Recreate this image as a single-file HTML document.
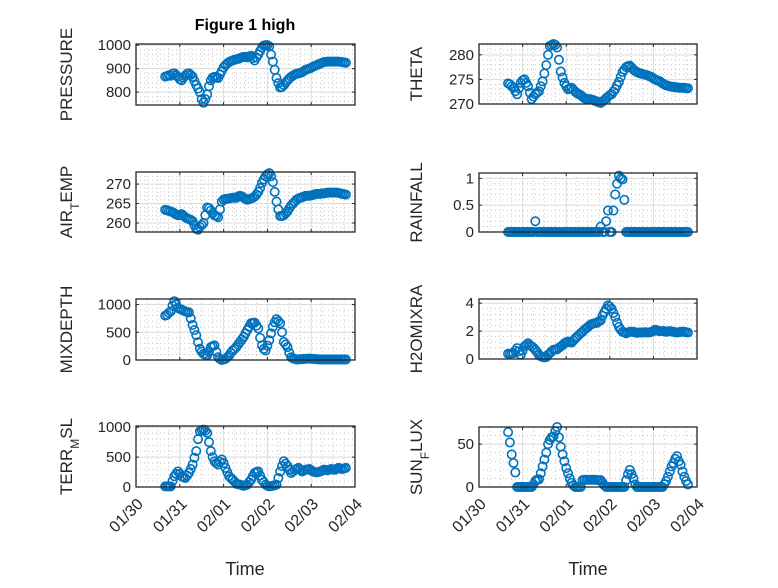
<!DOCTYPE html>
<html><head><meta charset="utf-8"><style>
body{margin:0;background:#fff}
svg text{font-family:"Liberation Sans",sans-serif;fill:#262626}
</style></head><body>
<svg id="fig" width="778" height="583" xmlns="http://www.w3.org/2000/svg">
<rect width="778" height="583" fill="#fff"/>
<text x="245" y="30" text-anchor="middle" font-size="16" font-weight="bold" style="fill:#000">Figure 1 high</text>
<text x="245" y="575" text-anchor="middle" font-size="18">Time</text>
<text x="588" y="575" text-anchor="middle" font-size="18">Time</text>
</svg>
<script>
const hours=[16,17,18,19,20,21,22,23,24,25,26,27,28,29,30,31,32,33,34,35,36,37,38,39,40,41,42,43,44,45,46,47,48,49,50,51,52,53,54,55,56,57,58,59,60,61,62,63,64,65,66,67,68,69,70,71,72,73,74,75,76,77,78,79,80,81,82,83,84,85,86,87,88,89,90,91,92,93,94,95,96,97,98,99,100,101,102,103,104,105,106,107,108,109,110,111,112,113,114,115];
const dayTicks=["01/30","01/31","02/01","02/02","02/03","02/04"];
const pressure=[866,868,872,870,878,880,872,865,855,850,862,870,878,880,873,865,848,830,815,800,770,755,770,790,825,850,862,865,862,860,875,890,905,915,922,928,932,935,938,940,942,945,948,950,950,948,952,955,945,935,948,960,975,990,998,1000,1000,995,960,930,895,860,838,820,822,830,840,850,858,865,870,875,878,880,882,885,890,895,898,900,904,908,912,915,918,922,925,928,929,930,930,930,930,930,930,930,929,928,926,925];
const airTemp=[263.4,263.3,263.1,263.0,262.8,262.5,262.2,262.0,262.1,262.3,261.9,261.5,261.2,261.0,260.8,260.5,259.5,258.5,258.3,259.0,259.5,260.0,262.0,264.0,263.8,263.2,262.5,262.0,261.8,261.5,263.5,265.5,266.0,266.2,266.2,266.3,266.4,266.5,266.5,266.5,266.8,267.0,266.8,266.5,266.2,266.0,266.1,266.3,266.5,266.8,267.3,268.0,269.0,270.3,271.2,272.0,272.5,272.8,272.0,270.5,268.0,265.5,263.5,261.8,261.8,262.0,262.5,263.0,263.8,264.5,265.0,265.5,266.0,266.3,266.5,266.6,266.8,267.0,267.0,267.0,267.1,267.2,267.4,267.5,267.5,267.5,267.6,267.6,267.7,267.8,267.8,267.8,267.8,267.8,267.8,267.7,267.6,267.5,267.4,267.3];
const mixDepth=[800,816,850,877,980,1060,1000,940,920,908,890,877,865,859,750,632,540,448,320,202,150,110,90,80,150,233,250,264,150,50,20,0,10,20,50,80,130,172,200,233,280,325,370,417,480,540,600,663,670,675,620,570,400,264,200,172,260,356,480,600,680,736,700,663,500,325,280,233,130,50,30,20,10,10,15,15,20,20,25,25,22,20,18,15,12,10,10,10,10,10,10,10,10,10,10,10,10,10,10,10];
const terrMsl=[10,10,10,10,100,180,220,260,220,180,165,150,190,235,300,375,490,600,800,930,950,960,940,905,750,600,500,430,400,375,420,460,400,320,250,180,150,120,90,55,45,40,30,20,30,40,80,120,180,235,250,260,190,120,80,40,20,10,15,20,30,40,150,260,350,430,390,350,290,235,260,290,300,320,290,260,275,290,295,300,280,260,250,245,250,260,275,290,285,280,290,300,295,290,305,320,310,300,310,320];
const theta=[274.2,274,273.6,273.3,272.6,272,273.2,274.3,274.8,275,274.3,273.6,272.3,271,271.5,272,272.3,272.6,273.6,274.6,276.2,277.9,280,281.8,282,282.2,282,281.5,279,276.6,275.4,274.3,273.6,273,273.1,273.3,272.9,272.5,272.2,272,271.8,271.5,271.2,271,271,271,270.9,270.8,270.6,270.5,270.3,270.2,270.5,270.8,271.2,271.5,271.8,272,272.5,273,273.8,274.5,275.5,276.5,277,277.5,277.7,277.8,277.4,277,276.7,276.5,276.3,276.2,276.1,276,275.9,275.8,275.6,275.5,275.2,275,274.8,274.7,274.5,274.2,274,273.8,273.7,273.6,273.5,273.5,273.4,273.4,273.3,273.3,273.3,273.3,273.2,273.2];
const rainfall=[0,0,0,0,0,0,0,0,0,0,0,0,0,0,0,0.2,0,0,0,0,0,0,0,0,0,0,0,0,0,0,0,0,0,0,0,0,0,0,0,0,0,0,0,0,0,0,0,0,0,0,0,0.1,0,0,0.2,0.4,0,0,0.4,0.7,0.9,1.05,1.0,0.98,0.6,0,0,0,0,0,0,0,0,0,0,0,0,0,0,0,0,0,0,0,0,0,0,0,0,0,0,0,0,0,0,0,0,0,0,0];
const h2o=[0.38,0.38,0.4,0.42,0.6,0.78,0.55,0.3,0.6,0.9,1.0,1.13,1.0,0.9,0.8,0.66,0.5,0.3,0.2,0.14,0.12,0.14,0.3,0.42,0.55,0.66,0.68,0.7,0.8,0.9,1.0,1.13,1.2,1.25,1.2,1.18,1.33,1.48,1.6,1.72,1.85,1.95,2.1,2.2,2.3,2.42,2.5,2.54,2.57,2.6,2.7,2.78,3.1,3.36,3.6,3.84,3.75,3.6,3.3,3.0,2.6,2.3,2.1,1.95,1.9,1.84,1.9,1.95,1.95,1.95,1.9,1.88,1.9,1.9,1.9,1.92,1.92,1.9,1.92,1.95,2.0,2.1,2.05,2.0,2.0,2.0,2.0,1.95,1.97,2.0,1.97,1.95,1.92,1.9,1.92,1.95,1.95,1.95,1.92,1.9];
const sunFlux=[64,52,38,28,17,0,0,0,0,0,0,0,0,0,3,7,8.5,9,16,24,32,40,50,55,58,59,65,70,58,47,38,30,22,16,10,5,2,0,0,0,0,8,8.5,8.5,8.5,8.5,8.5,8.5,8.5,8,8,8,5,2,0,0,0,0,0,0,0,0,0,0,0,8,15,20,15,10,3,0,0,0,0,0,0,0,0,0,0,0,0,0,0,0,3,7,12,18,24,28,33,36,30,26,18,12,7,3];

const NS="http://www.w3.org/2000/svg";
const svg=document.getElementById('fig');
function mk(tag,attrs,parent){const e=document.createElementNS(NS,tag);for(const k in attrs)e.setAttribute(k,attrs[k]);(parent||svg).appendChild(e);return e;}

function panel(name,x0,y0,w,h,ymin,ymax,yticks,ylabelParts,data,showX,labOff){
  const g=mk('g',{});
  
  
  const sx=hr=>x0+hr/24*(w/5);
  const sy=v=>y0+h-(v-ymin)/(ymax-ymin)*h;
  for(let d=0;d<5;d++)for(let m=1;m<4;m++){const x=sx((d+m/4)*24);mk('line',{x1:x,x2:x,y1:y0,y2:y0+h,stroke:'#c8c8c8','stroke-width':1,'stroke-dasharray':'1 3'},g);}
  const step=yticks[1]-yticks[0];
  for(let v=yticks[0]-step;v<=ymax;v+=step/5){if(v<=ymin||v>=ymax)continue;const y=sy(v);mk('line',{x1:x0,x2:x0+w,y1:y,y2:y,stroke:'#c8c8c8','stroke-width':1,'stroke-dasharray':'1 3'},g);}
  for(let d=1;d<5;d++){const x=sx(d*24);mk('line',{x1:x,x2:x,y1:y0,y2:y0+h,stroke:'#dcdcdc','stroke-width':1},g);}
  yticks.forEach(v=>{const y=sy(v);if(v>ymin&&v<ymax)mk('line',{x1:x0,x2:x0+w,y1:y,y2:y,stroke:'#dcdcdc','stroke-width':1},g);
    const t=mk('text',{x:x0-5,y:y+5,'text-anchor':'end','font-size':15},g);t.textContent=v;
    
    
    mk('line',{x1:x0,x2:x0+3,y1:y,y2:y,stroke:'#262626'},g);mk('line',{x1:x0+w-3,x2:x0+w,y1:y,y2:y,stroke:'#262626'},g);});
  dayTicks.forEach((lab,i)=>{const x=sx(i*24);
    mk('line',{x1:x,x2:x,y1:y0+h,y2:y0+h-3,stroke:'#262626'},g);mk('line',{x1:x,x2:x,y1:y0,y2:y0+3,stroke:'#262626'},g);
    if(showX){const tx=x+8,ty=y0+h+18;const t=mk('text',{x:tx,y:ty,'text-anchor':'end','font-size':16,transform:`rotate(-45 ${tx} ${ty})`},g);t.textContent=lab;
      
      }});
  data.forEach((v,i)=>{const c=mk('circle',{cx:sx(hours[i]),cy:sy(v),r:4.2,fill:'none',stroke:'#0072BD','stroke-width':1.6},g);
    
    });
  mk('rect',{x:x0,y:y0,width:w,height:h,fill:'none',stroke:'#262626','stroke-width':1.3},g);
  const lx=x0-labOff, ly=y0+h/2;
  const t=mk('text',{x:lx,y:ly,'text-anchor':'middle','font-size':17,transform:`rotate(-90 ${lx} ${ly})`},g);
  
  
  ylabelParts.forEach(p=>{const s=mk('tspan',{},t);s.textContent=p[0];if(p[1]){s.setAttribute('baseline-shift','sub');s.setAttribute('font-size','12');}});
}
const LX=136,RX=479,W=219;
panel('pressure',LX,44,W,61,745,1005,[800,900,1000],[['PRESSURE']],pressure,false,64);
panel('air-temp',LX,172,W,60,257.7,273.1,[260,265,270],[['AIR'],['T',1],['EMP']],airTemp,false,64);
panel('mixdepth',LX,299,W,61,0,1100,[0,500,1000],[['MIXDEPTH']],mixDepth,false,64);
panel('terr-msl',LX,426,W,61,0,1020,[0,500,1000],[['TERR'],['M',1],['SL']],terrMsl,true,64);
panel('theta',RX,44,218,60,270,282.2,[270,275,280],[['THETA']],theta,false,57);
panel('rainfall',RX,173,218,59,0,1.1,[0,0.5,1],[['RAINFALL']],rainfall,false,57);
panel('h2omixra',RX,299,218,60,0,4.3,[0,2,4],[['H2OMIXRA']],h2o,false,57);
panel('sun-flux',RX,427,218,60,0,70,[0,50],[['SUN'],['F',1],['LUX']],sunFlux,true,57);
</script>
</body></html>
